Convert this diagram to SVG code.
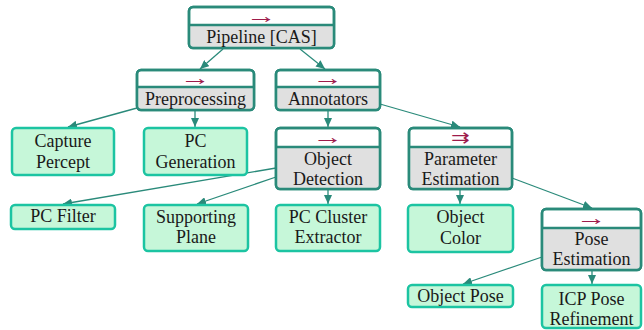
<svg xmlns="http://www.w3.org/2000/svg" width="644" height="330" viewBox="0 0 644 330">
<defs>
<marker id="ah" markerWidth="10" markerHeight="8" refX="9" refY="4" orient="auto" markerUnits="userSpaceOnUse">
<path d="M0,0 L9,4 L0,8 Z" fill="#2a8a7a"/>
</marker>
<style>
.par{fill:#ffffff;stroke:#2a8a7a;stroke-width:2.5}
.low{fill:#e0e0e0}
.div{stroke:#2a8a7a;stroke-width:2.5}
.brd{fill:none;stroke:#2a8a7a;stroke-width:2.5}
.leaf{fill:#c6f7d9;stroke:#1cc4a2;stroke-width:2.5}
.t{font-family:'Liberation Serif',serif;font-size:18px;fill:#1a1a1a;text-anchor:middle}
.ar{font-family:'Liberation Serif',serif;font-size:22px;fill:#9e1b4b;text-anchor:middle}
.ar2{font-family:'DejaVu Sans',sans-serif;font-size:16px;fill:#9e1b4b;text-anchor:middle}
.e{stroke:#2a8a7a;stroke-width:1.3;fill:none;marker-end:url(#ah)}
</style>
</defs>
<g id="connectors">
<line class="e" x1="223" y1="49" x2="200" y2="69"/>
<line class="e" x1="300" y1="49" x2="325" y2="69"/>
<line class="e" x1="137" y1="108" x2="68" y2="127"/>
<line class="e" x1="195" y1="110" x2="195" y2="127"/>
<line class="e" x1="328" y1="110" x2="328" y2="127"/>
<line class="e" x1="380" y1="104" x2="460" y2="127"/>
<line class="e" x1="276" y1="168" x2="63" y2="204"/>
<line class="e" x1="276" y1="177" x2="197" y2="204"/>
<line class="e" x1="328" y1="189" x2="328" y2="204"/>
<line class="e" x1="460" y1="189" x2="460" y2="204"/>
<line class="e" x1="512" y1="178" x2="592" y2="208"/>
<line class="e" x1="542" y1="257" x2="463" y2="284"/>
<line class="e" x1="592" y1="270" x2="592" y2="284"/>
</g>
<g id="pipeline">
<rect class="par" x="189" y="7" width="145" height="41" rx="4"/>
<rect class="low" x="190.3" y="25" width="142.4" height="21.7" rx="3"/>
<line class="div" x1="189" y1="25" x2="334" y2="25"/>
<rect class="brd" x="189" y="7" width="145" height="41" rx="4"/>
<text class="ar" transform="translate(261.5,22.5) scale(1.4,1)">→</text>
<text class="t" x="261.5" y="43">Pipeline [CAS]</text>
</g>
<g id="preprocessing">
<rect class="par" x="137" y="70" width="117" height="40" rx="4"/>
<rect class="low" x="138.3" y="87" width="114.4" height="21.7" rx="3"/>
<line class="div" x1="137" y1="87" x2="254" y2="87"/>
<rect class="brd" x="137" y="70" width="117" height="40" rx="4"/>
<text class="ar" transform="translate(195.5,84.5) scale(1.4,1)">→</text>
<text class="t" x="195.5" y="105">Preprocessing</text>
</g>
<g id="annotators">
<rect class="par" x="276" y="70" width="104" height="40" rx="4"/>
<rect class="low" x="277.3" y="87" width="101.4" height="21.7" rx="3"/>
<line class="div" x1="276" y1="87" x2="380" y2="87"/>
<rect class="brd" x="276" y="70" width="104" height="40" rx="4"/>
<text class="ar" transform="translate(328,84.5) scale(1.4,1)">→</text>
<text class="t" x="328" y="105">Annotators</text>
</g>
<g id="capture-percept">
<rect class="leaf" x="12" y="128" width="102" height="47" rx="4"/>
<text class="t" x="63" y="147">Capture</text>
<text class="t" x="63" y="168">Percept</text>
</g>
<g id="pc-generation">
<rect class="leaf" x="144" y="128" width="103" height="47" rx="4"/>
<text class="t" x="195.5" y="147">PC</text>
<text class="t" x="195.5" y="168">Generation</text>
</g>
<g id="object-detection">
<rect class="par" x="276" y="128" width="104" height="61" rx="4"/>
<rect class="low" x="277.3" y="147" width="101.4" height="40.7" rx="3"/>
<line class="div" x1="276" y1="147" x2="380" y2="147"/>
<rect class="brd" x="276" y="128" width="104" height="61" rx="4"/>
<text class="ar" transform="translate(328,143.5) scale(1.4,1)">→</text>
<text class="t" x="328" y="165">Object</text>
<text class="t" x="328" y="185">Detection</text>
</g>
<g id="parameter-estimation">
<rect class="par" x="409" y="128" width="103" height="61" rx="4"/>
<rect class="low" x="410.3" y="147" width="100.4" height="40.7" rx="3"/>
<line class="div" x1="409" y1="147" x2="512" y2="147"/>
<rect class="brd" x="409" y="128" width="103" height="61" rx="4"/>
<text class="ar2" transform="translate(460.5,143) scale(1.4,1)">⇉</text>
<text class="t" x="460.5" y="165">Parameter</text>
<text class="t" x="460.5" y="185">Estimation</text>
</g>
<g id="pc-filter">
<rect class="leaf" x="11" y="205" width="104" height="24" rx="4"/>
<text class="t" x="63" y="222">PC Filter</text>
</g>
<g id="supporting-plane">
<rect class="leaf" x="144" y="205" width="104" height="46" rx="4"/>
<text class="t" x="196" y="223">Supporting</text>
<text class="t" x="196" y="243">Plane</text>
</g>
<g id="pc-cluster-extractor">
<rect class="leaf" x="276" y="205" width="104" height="46" rx="4"/>
<text class="t" x="328" y="223">PC Cluster</text>
<text class="t" x="328" y="243">Extractor</text>
</g>
<g id="object-color">
<rect class="leaf" x="408" y="205" width="105" height="47" rx="4"/>
<text class="t" x="460.5" y="223">Object</text>
<text class="t" x="460.5" y="244">Color</text>
</g>
<g id="pose-estimation">
<rect class="par" x="542" y="209" width="99" height="61" rx="4"/>
<rect class="low" x="543.3" y="228" width="96.4" height="40.7" rx="3"/>
<line class="div" x1="542" y1="228" x2="641" y2="228"/>
<rect class="brd" x="542" y="209" width="99" height="61" rx="4"/>
<text class="ar" transform="translate(591.5,224.5) scale(1.4,1)">→</text>
<text class="t" x="591.5" y="245">Pose</text>
<text class="t" x="591.5" y="265">Estimation</text>
</g>
<g id="object-pose">
<rect class="leaf" x="408" y="285" width="105" height="22" rx="4"/>
<text class="t" x="460.5" y="302">Object Pose</text>
</g>
<g id="icp-pose-refinement">
<rect class="leaf" x="542" y="285" width="99" height="43" rx="4"/>
<text class="t" x="591.5" y="305">ICP Pose</text>
<text class="t" x="591.5" y="325">Refinement</text>
</g>
</svg>
